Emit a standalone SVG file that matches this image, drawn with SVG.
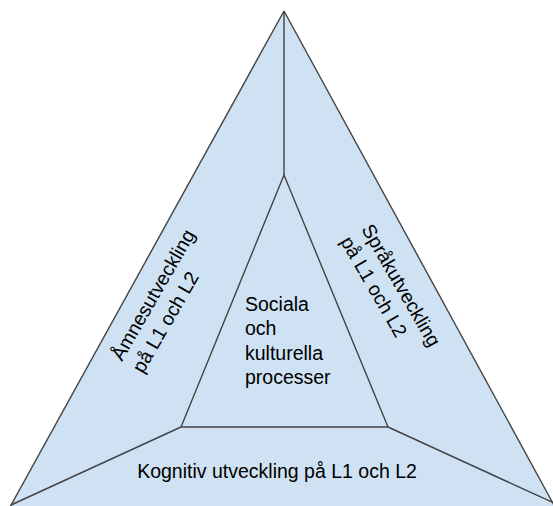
<svg xmlns="http://www.w3.org/2000/svg" width="553" height="506" viewBox="0 0 553 506">
<style>
.fill{fill:#cfe2f3;stroke:none}
.edge{fill:none;stroke:#434343;stroke-width:1.4;stroke-linejoin:miter}
.lbl{font-family:"Liberation Sans",Arial,sans-serif;font-size:19.5px;fill:#000}
</style>
<rect width="553" height="506" fill="#ffffff"/>
<g id="outer">
<polygon class="fill" points="284,11 10,507 555,507"/>
</g>
<g id="connectors">
<line class="edge" x1="284" y1="11" x2="10" y2="507"/>
<line class="edge" x1="284" y1="11" x2="555" y2="507"/>
<line class="edge" x1="284" y1="11" x2="284" y2="175"/>
<line class="edge" x1="181" y1="427" x2="11" y2="505"/>
<line class="edge" x1="388" y1="427" x2="554" y2="503"/>
</g>
<g id="center">
<polygon class="edge" points="284,175 181,427 388,427"/>
<text class="lbl" x="245" y="311"><tspan x="245">Sociala</tspan><tspan x="245" dy="24.4">och</tspan><tspan x="245" dy="24.4">kulturella</tspan><tspan x="245" dy="24.4">processer</tspan></text>
</g>
<g id="left">
<text class="lbl" transform="translate(122,362) rotate(-60)"><tspan x="0" y="0">Åmnesutveckling</tspan><tspan x="0" dy="24.4">på L1 och L2</tspan></text>
</g>
<g id="right">
<text class="lbl" transform="translate(361,229) rotate(60)"><tspan x="0" y="0">Språkutveckling</tspan><tspan x="0" dy="24.4">på L1 och L2</tspan></text>
</g>
<g id="bottom">
<text class="lbl" x="277" y="478" text-anchor="middle">Kognitiv utveckling på L1 och L2</text>
</g>
</svg>
